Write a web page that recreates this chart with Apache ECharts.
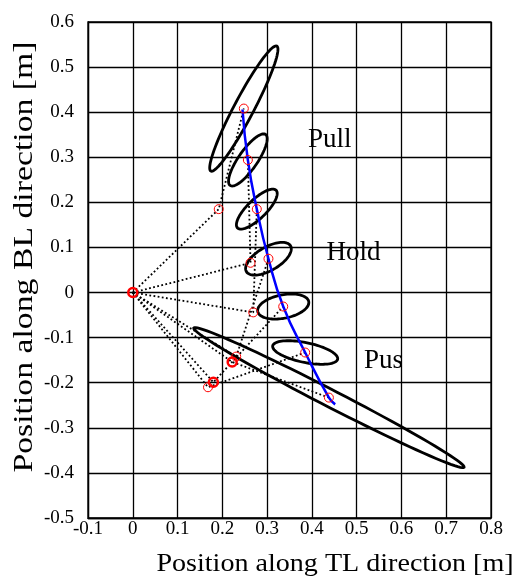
<!DOCTYPE html>
<html>
<head>
<meta charset="utf-8">
<script src="https://cdn.jsdelivr.net/npm/echarts@6/dist/echarts.min.js"></script>
<style>
  html, body { margin: 0; padding: 0; background: #fff; }
  #chart { width: 518px; height: 579px; }
</style>
</head>
<body>
<div id="chart"></div>
<script>
// hand positions along the trajectory [x, y] (m)
const handPoints = [
  [0.248, 0.408], [0.257, 0.294], [0.277, 0.185], [0.303, 0.075],
  [0.336, -0.031], [0.385, -0.133], [0.438, -0.233]
];
// elbow position for each posture (same order as handPoints)
const elbowPoints = [
  [0.192, 0.185], [0.263, 0.066], [0.269, -0.044], [0.231, -0.142],
  [0.180, -0.199], [0.168, -0.210], [0.222, -0.154]
];
const shoulder = [0, 0];
// circles drawn heavier in the picture
const boldPoints = [[0, 0], [0.180, -0.199], [0.222, -0.154]];
// blue hand path
const pathPoints = [
  [0.245, 0.406], [0.257, 0.294], [0.277, 0.185], [0.303, 0.075],
  [0.336, -0.031], [0.385, -0.133], [0.438, -0.233], [0.452, -0.248]
];
// ellipse semi-major, semi-minor (m) and tilt (deg), centred on handPoints
const ellipseMajor = [0.157, 0.069, 0.060, 0.057, 0.058, 0.074, 0.339];
const ellipseMinor = [0.022, 0.021, 0.021, 0.026, 0.026, 0.022, 0.019];
const ellipseTilt = [62, 55, 44, 30, 11, -11.5, -27.1];
// text notes
const noteText = ['Pull', 'Hold', 'Pus'];
const notePos = [[0.44, 0.338], [0.493, 0.088], [0.56, -0.152]];

const xTicks = { min: -0.1, max: 0.8, interval: 0.1 };
const yTicks = { min: -0.5, max: 0.6, interval: 0.1 };

const serif = '"Liberation Serif", "DejaVu Serif", serif';
const chart = echarts.init(document.getElementById('chart'), null, { renderer: 'canvas' });

const ellipseData = handPoints.map((p, i) => [p[0], p[1], ellipseMajor[i], ellipseMinor[i], ellipseTilt[i]]);

const armSeries = handPoints.map((h, i) => ({
  type: 'line',
  data: [shoulder, elbowPoints[i], h],
  symbol: 'none',
  z: 3,
  lineStyle: { color: '#000', width: 1.8, type: [1.8, 2.4] },
  silent: true
}));

const redPoints = [shoulder].concat(elbowPoints, handPoints);

const option = {
  animation: false,
  grid: { left: 88, right: 27, top: 22, bottom: 61, show: true, borderColor: '#000', borderWidth: 1.3 },
  xAxis: {
    type: 'value', min: xTicks.min, max: xTicks.max, interval: xTicks.interval,
    axisLine: { show: true, onZero: false, lineStyle: { color: '#000', width: 1.3 } },
    axisTick: { show: false },
    splitLine: { show: true, lineStyle: { color: '#000', width: 1.3 } },
    axisLabel: { color: '#000', fontFamily: serif, fontSize: 19, margin: 2,
      formatter: v => String(Math.round(v * 10) / 10) }
  },
  yAxis: {
    type: 'value', min: yTicks.min, max: yTicks.max, interval: yTicks.interval,
    axisLine: { show: true, onZero: false, lineStyle: { color: '#000', width: 1.3 } },
    axisTick: { show: false },
    splitLine: { show: true, lineStyle: { color: '#000', width: 1.3 } },
    axisLabel: { color: '#000', fontFamily: serif, fontSize: 19, margin: 14,
      formatter: v => String(Math.round(v * 10) / 10) }
  },
  graphic: [
    { type: 'text', x: 25, y: 257, rotation: Math.PI / 2, scaleX: 1.25,
      style: { text: 'Position along BL direction [m]', font: '27px ' + serif, fill: '#000', align: 'center', verticalAlign: 'middle' } },
    { type: 'text', x: 335, y: 564, scaleX: 1.08,
      style: { text: 'Position along TL direction [m]', font: '26px ' + serif, fill: '#000', align: 'center', verticalAlign: 'middle' } }
  ],
  series: [
    {
      type: 'custom',
      data: ellipseData,
      encode: { x: 0, y: 1 },
      z: 2,
      silent: true,
      renderItem: (params, api) => {
        const cx = api.value(0), cy = api.value(1);
        const a = api.value(2), b = api.value(3), ang = api.value(4) * Math.PI / 180;
        const pts = [];
        for (let k = 0; k <= 90; k++) {
          const t = k / 90 * 2 * Math.PI;
          const x = cx + a * Math.cos(t) * Math.cos(ang) - b * Math.sin(t) * Math.sin(ang);
          const y = cy + a * Math.cos(t) * Math.sin(ang) + b * Math.sin(t) * Math.cos(ang);
          pts.push(api.coord([x, y]));
        }
        return { type: 'polygon', shape: { points: pts }, style: { fill: 'none', stroke: '#000', lineWidth: 2.8 } };
      }
    },
    ...armSeries,
    {
      type: 'line',
      data: pathPoints,
      smooth: 0.5,
      symbol: 'none',
      z: 4,
      lineStyle: { color: '#0000ff', width: 2.5 },
      silent: true
    },
    {
      type: 'scatter',
      data: redPoints,
      symbol: 'circle',
      symbolSize: 9,
      z: 5,
      itemStyle: { color: 'rgba(0,0,0,0)', borderColor: '#ff0000', borderWidth: 1, opacity: 1 },
      silent: true
    },
    {
      type: 'scatter',
      data: boldPoints,
      symbol: 'circle',
      symbolSize: 9,
      z: 5,
      itemStyle: { color: 'rgba(0,0,0,0)', borderColor: '#ff0000', borderWidth: 2.5, opacity: 1 },
      silent: true
    },
    {
      type: 'scatter',
      data: notePos.map((p, i) => ({ value: p, name: noteText[i] })),
      symbolSize: 0,
      z: 6,
      silent: true,
      itemStyle: { opacity: 1 },
      label: { show: true, position: 'inside', formatter: p => p.name, color: '#000', opacity: 1,
        textBorderWidth: 0, fontFamily: serif, fontSize: 27 }
    }
  ]
};

chart.setOption(option);
</script>
</body>
</html>
